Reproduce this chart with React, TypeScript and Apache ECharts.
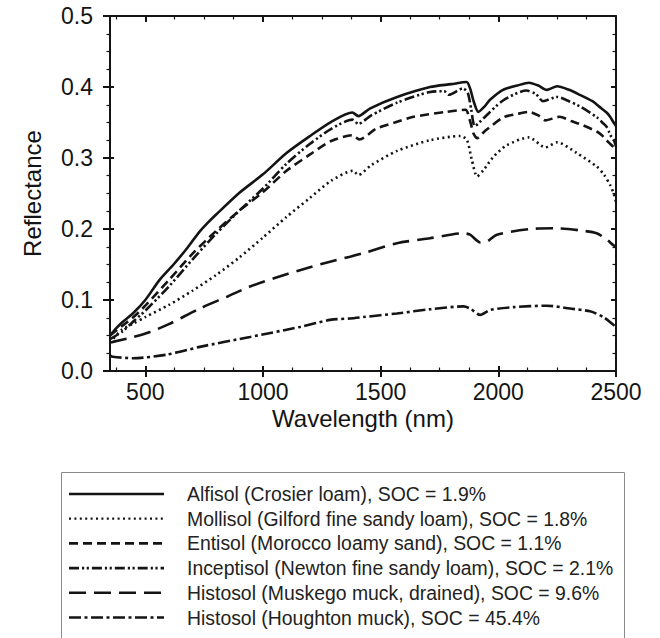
import React, { useEffect, useRef } from "react";
import * as echarts from "echarts";

const majorX = [500, 1000, 1500, 2000, 2500];
const minorX = [375, 625, 750, 875, 1125, 1250, 1375, 1625, 1750, 1875, 2125, 2250, 2375];

const seriesNames = [
  "Alfisol (Crosier loam), SOC = 1.9%",
  "Mollisol (Gilford fine sandy loam), SOC = 1.8%",
  "Entisol (Morocco loamy sand), SOC = 1.1%",
  "Inceptisol (Newton fine sandy loam), SOC = 2.1%",
  "Histosol (Muskego muck, drained), SOC = 9.6%",
  "Histosol (Houghton muck), SOC = 45.4%",
];

const alfisol: [number, number][] = [
  [350, 0.05], [370, 0.058], [400, 0.068], [450, 0.082], [500, 0.1], [560, 0.128], [620, 0.15],
  [680, 0.174], [730, 0.196], [766, 0.209], [800, 0.22], [900, 0.251], [1000, 0.277], [1100, 0.307],
  [1200, 0.331], [1290, 0.351], [1380, 0.364], [1405, 0.359], [1456, 0.37], [1570, 0.386],
  [1710, 0.4], [1800, 0.404], [1865, 0.407], [1880, 0.398], [1895, 0.38], [1915, 0.365],
  [1940, 0.372], [1965, 0.382], [2020, 0.396], [2080, 0.402], [2130, 0.406], [2170, 0.402],
  [2205, 0.396], [2250, 0.401], [2300, 0.396], [2340, 0.39], [2400, 0.38], [2430, 0.372],
  [2460, 0.364], [2475, 0.358], [2490, 0.35], [2500, 0.345],
];

const mollisol: [number, number][] = [
  [350, 0.04], [400, 0.058], [450, 0.067], [500, 0.076], [600, 0.093], [700, 0.113], [800, 0.135],
  [900, 0.16], [1000, 0.188], [1100, 0.217], [1200, 0.244], [1290, 0.268], [1383, 0.282],
  [1405, 0.276], [1460, 0.29], [1570, 0.31], [1710, 0.325], [1840, 0.331], [1867, 0.325],
  [1887, 0.298], [1910, 0.274], [1937, 0.283], [1980, 0.302], [2036, 0.318], [2130, 0.329],
  [2200, 0.315], [2250, 0.322], [2333, 0.307], [2418, 0.288], [2450, 0.276], [2475, 0.262],
  [2490, 0.25], [2500, 0.238],
];

const entisol: [number, number][] = [
  [350, 0.05], [400, 0.063], [450, 0.076], [500, 0.092], [600, 0.128], [700, 0.165], [800, 0.197],
  [900, 0.226], [1000, 0.252], [1100, 0.282], [1200, 0.305], [1290, 0.324], [1380, 0.332],
  [1410, 0.326], [1480, 0.341], [1560, 0.35], [1640, 0.358], [1780, 0.365], [1860, 0.368],
  [1880, 0.352], [1895, 0.334], [1910, 0.328], [1940, 0.337], [2020, 0.357], [2080, 0.362],
  [2130, 0.365], [2170, 0.36], [2200, 0.353], [2260, 0.358], [2310, 0.352], [2360, 0.346],
  [2420, 0.337], [2440, 0.332], [2460, 0.325], [2475, 0.32], [2490, 0.315], [2500, 0.31],
];

const inceptisol: [number, number][] = [
  [350, 0.045], [400, 0.055], [450, 0.07], [500, 0.085], [600, 0.119], [700, 0.157], [800, 0.193],
  [900, 0.226], [1000, 0.257], [1100, 0.292], [1200, 0.32], [1290, 0.341], [1380, 0.354],
  [1405, 0.348], [1460, 0.36], [1570, 0.378], [1710, 0.393], [1770, 0.394], [1790, 0.389],
  [1850, 0.398], [1870, 0.392], [1885, 0.368], [1900, 0.345], [1937, 0.356], [2020, 0.381],
  [2120, 0.395], [2160, 0.39], [2190, 0.38], [2250, 0.386], [2300, 0.38], [2350, 0.372],
  [2420, 0.357], [2445, 0.349], [2460, 0.344], [2470, 0.337], [2480, 0.33], [2490, 0.326],
  [2500, 0.316],
];

const muskego: [number, number][] = [
  [350, 0.04], [362, 0.041], [450, 0.048], [520, 0.055], [600, 0.066], [732, 0.088], [850, 0.105],
  [945, 0.119], [1050, 0.131], [1157, 0.142], [1285, 0.154], [1370, 0.161], [1427, 0.166],
  [1569, 0.18], [1710, 0.187], [1852, 0.194], [1880, 0.192], [1923, 0.181], [1951, 0.182],
  [1994, 0.192], [2136, 0.2], [2248, 0.201], [2347, 0.198], [2418, 0.194], [2461, 0.185],
  [2489, 0.177], [2500, 0.175],
];

const houghton: [number, number][] = [
  [350, 0.022], [362, 0.02], [449, 0.018], [591, 0.023], [732, 0.034], [945, 0.048], [1157, 0.062],
  [1285, 0.072], [1370, 0.074], [1427, 0.076], [1569, 0.081], [1710, 0.087], [1852, 0.091],
  [1880, 0.088], [1923, 0.079], [1965, 0.086], [2064, 0.09], [2205, 0.092], [2304, 0.088],
  [2390, 0.084], [2446, 0.076], [2489, 0.065], [2500, 0.062],
];

const seriesData = [alfisol, mollisol, entisol, inceptisol, muskego, houghton];
const dashes: (string | number[])[] = [
  "solid",
  [2, 3.4],
  [9, 5],
  [10, 3, 2.2, 2.5, 2.2, 3],
  [17, 8],
  [12, 3.5, 3, 3.5],
];

const INK = "#141414";
const FONT = "Liberation Sans";

export default function App() {
  const ref = useRef<HTMLDivElement>(null);
  useEffect(() => {
    if (!ref.current) return;
    const chart = echarts.init(ref.current, null, { renderer: "svg" });
    const common = { min: 350, max: 2500, type: "value" as const, splitLine: { show: false } };
    const tickAxis = (position: "bottom" | "top", values: number[], inside: boolean, length: number, width: number) => ({
      ...common,
      position,
      axisLine: { show: false },
      axisLabel: { show: false },
      axisTick: { show: true, inside, length, customValues: values, lineStyle: { color: INK, width } },
    });
    const yTickAxis = (position: "left" | "right", inside: boolean, length: number, minor: boolean) => ({
      type: "value" as const,
      min: 0,
      max: 0.5,
      interval: 0.1,
      position,
      splitLine: { show: false },
      axisLine: { show: false },
      axisLabel: { show: false },
      axisTick: { show: true, inside, length, lineStyle: { color: INK, width: 2 } },
      minorTick: { show: minor, splitNumber: 4, length: 3.5, lineStyle: { color: INK, width: 1.2 } },
    });

    const legendLeft = 61;
    const legendTop = 472;
    const rowY0 = 494;
    const rowStep = 24.7;
    const legendGraphics: any[] = [
      {
        type: "rect",
        shape: { x: legendLeft + 0.5, y: legendTop + 0.5, width: 563, height: 200 },
        style: { fill: "none", stroke: "#8a8a8a", lineWidth: 1 },
        silent: true,
      },
    ];
    seriesNames.forEach((name, i) => {
      const y = rowY0 + i * rowStep;
      const d = dashes[i];
      legendGraphics.push({
        type: "line",
        shape: { x1: 69, y1: y, x2: 164, y2: y },
        style: {
          stroke: INK,
          lineWidth: i === 1 ? 2.2 : 2.6,
          lineDash: Array.isArray(d) ? d : null,
          lineCap: "butt",
        },
        silent: true,
      });
      legendGraphics.push({
        type: "text",
        x: 187,
        y,
        style: {
          text: name,
          fontFamily: FONT,
          fontSize: 19.4,
          fill: "#222",
          verticalAlign: "middle",
          align: "left",
        },
        silent: true,
      });
    });

    chart.setOption({
      animation: false,
      backgroundColor: "#ffffff",
      grid: { left: 110, right: 44, top: 16, bottom: 267, show: false },
      xAxis: [
        {
          ...common,
          position: "bottom",
          name: "Wavelength (nm)",
          nameLocation: "middle",
          nameGap: 35,
          nameMoveOverlap: false,
          nameTextStyle: { fontFamily: FONT, fontSize: 24, color: INK },
          axisLine: { show: true, lineStyle: { color: INK, width: 2 } },
          axisTick: { show: true, inside: false, length: 6, customValues: majorX, lineStyle: { color: INK, width: 2 } },
          axisLabel: {
            show: true,
            margin: 9,
            customValues: majorX,
            fontFamily: FONT,
            fontSize: 23,
            color: INK,
            formatter: (v: number) => String(v),
          },
        },
        tickAxis("bottom", majorX, true, 5, 2),
        tickAxis("bottom", minorX, true, 3.5, 1.2),
        {
          ...common,
          position: "top",
          axisLine: { show: true, lineStyle: { color: INK, width: 2 } },
          axisLabel: { show: false },
          axisTick: { show: true, inside: true, length: 6, customValues: majorX, lineStyle: { color: INK, width: 2 } },
        },
        tickAxis("top", minorX, true, 3.5, 1.2),
      ],
      yAxis: [
        {
          type: "value",
          min: 0,
          max: 0.5,
          interval: 0.1,
          position: "left",
          name: "Reflectance",
          nameLocation: "middle",
          nameGap: 66,
          nameMoveOverlap: false,
          nameTextStyle: { fontFamily: FONT, fontSize: 24, color: INK },
          splitLine: { show: false },
          axisLine: { show: true, lineStyle: { color: INK, width: 2 } },
          axisTick: { show: true, inside: false, length: 7, lineStyle: { color: INK, width: 2 } },
          minorTick: { show: true, splitNumber: 4, length: 3.5, lineStyle: { color: INK, width: 1.2 } },
          axisLabel: {
            margin: 17,
            fontFamily: FONT,
            fontSize: 23,
            color: INK,
            formatter: (v: number) => v.toFixed(1),
          },
        },
        yTickAxis("left", true, 4, false),
        {
          ...yTickAxis("right", true, 5, true),
          axisLine: { show: true, lineStyle: { color: INK, width: 2 } },
        },
      ],
      graphic: legendGraphics,
      series: seriesData.map((d, i) => ({
        name: seriesNames[i],
        type: "line",
        data: d,
        xAxisIndex: 0,
        yAxisIndex: 0,
        symbol: "none",
        smooth: 0.25,
        color: INK,
        lineStyle: { color: INK, width: 2.6, type: dashes[i], cap: "butt" },
      })),
    });
    return () => chart.dispose();
  }, []);
  return <div ref={ref} style={{ position: "absolute", left: 0, top: 0, width: 660, height: 638 }} />;
}
